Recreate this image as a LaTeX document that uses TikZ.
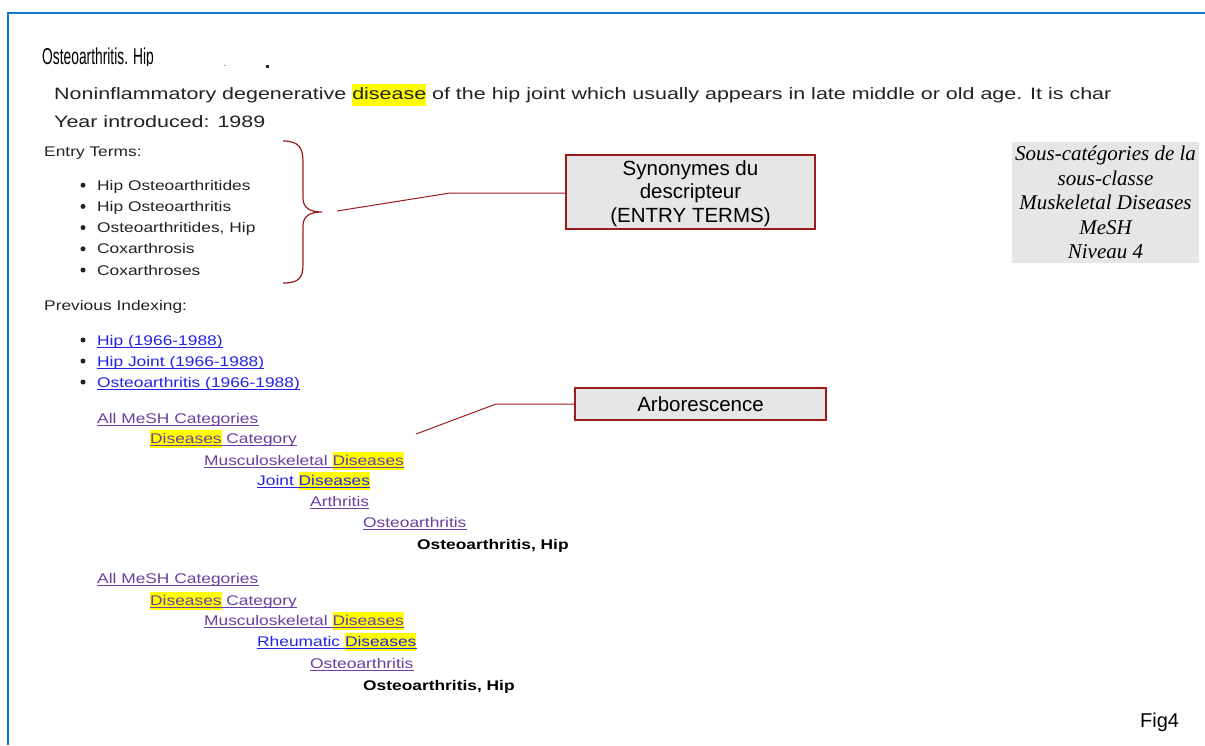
\documentclass[tikz,border=0pt]{standalone}
\usepackage{fontspec}
\setmainfont{Liberation Sans}
\newfontfamily\webfont[FakeStretch=1.24]{Liberation Sans}
\newfontfamily\bigwebfont[FakeStretch=1.3]{Liberation Sans}
\newfontfamily\headfont[FakeStretch=0.6]{Liberation Sans}
\newfontfamily\calloutfont{Liberation Sans}
\newfontfamily\notefont{Liberation Serif}

\definecolor{frameblue}{HTML}{1478C8}
\definecolor{bodytext}{HTML}{222222}
\definecolor{visited}{HTML}{6A3FA0}
\definecolor{linkblue}{HTML}{2424E8}
\definecolor{hlyellow}{HTML}{FFFF00}
\definecolor{calloutred}{HTML}{9B1C1C}
\definecolor{boxgray}{HTML}{E6E6E6}

% yellow search-term highlight spanning the full line height
\newcommand\hlword[1]{{\setlength{\fboxsep}{0pt}\colorbox{hlyellow}{\strut #1}}}

\tikzset{
  plain/.style={anchor=base west, inner sep=0pt, text=bodytext,
    font=\webfont\fontsize{14}{18}\selectfont},
  big/.style={plain, font=\bigwebfont\fontsize{16.5}{22}\selectfont},
  vlink/.style={plain, text=visited},
  nlink/.style={plain, text=linkblue},
  leaf/.style={plain, text=black, font=\webfont\bfseries\fontsize{14}{18}\selectfont},
  bullet/.style={circle, fill=bodytext, inner sep=0pt, minimum size=5pt},
  callout/.style={draw=calloutred, line width=1.2pt, fill=boxgray, align=center,
    inner sep=0pt, text=black, font=\calloutfont\fontsize{20.5}{23.5}\selectfont},
  leader/.style={draw=calloutred, line width=1pt},
}

\begin{document}
\begin{tikzpicture}[x=1pt,y=-1pt]
\useasboundingbox (0,0) rectangle (1205,745);
\fill[white] (0,0) rectangle (1205,745);

% page frame
\draw[frameblue, line width=2pt] (8,745) -- (8,13) -- (1205,13);

% heading, cut at its baseline
\begin{scope}
  \clip (0,30) rectangle (400,65.5);
  \node[plain, text=black, font=\headfont\fontsize{23}{27}\selectfont] (title) at (42,64) {Osteoarthritis. Hip};
\end{scope}
\fill[gray!70] (224,64.5) rectangle (226,66);
\fill[black!85] (266,64.5) rectangle (269,67.5);

% scope note
\node[big] (scopenote) at (54,99) {Noninflammatory degenerative {\setlength{\fboxsep}{0pt}\colorbox{hlyellow}{\strut disease}} of the hip joint which usually appears in late middle or old age. It is char};
\node[big] (year) at (54,127) {Year introduced: 1989};

% entry terms
\node[plain] (entry) at (44,156) {Entry Terms:};
\foreach \t [count=\i] in {Hip Osteoarthritides, Hip Osteoarthritis, {Osteoarthritides, Hip}, Coxarthrosis, Coxarthroses} {
  \node[bullet] (eb\i) at (83, 164+21.2*\i) {};
  \node[plain] (e\i) at (97, 169+21.2*\i) {\t};
}

% previous indexing
\node[plain] (prev) at (44,310) {Previous Indexing:};
\node[bullet] (pb1) at (83,340) {};
\node[bullet] (pb2) at (83,361) {};
\node[bullet] (pb3) at (83,382) {};
\node[nlink] (p1) at (97,345) {Hip (1966-1988)};
\node[nlink] (p2) at (97,366) {Hip Joint (1966-1988)};
\node[nlink] (p3) at (97,387) {Osteoarthritis (1966-1988)};

% first tree
\node[vlink] (a1) at (97,423) {All MeSH Categories};
\node[vlink] (a2) at (150,443) {\hlword{Diseases} Category};
\node[vlink] (a3) at (204,465) {Musculoskeletal \hlword{Diseases}};
\node[nlink] (a4) at (257,485) {Joint \hlword{Diseases}};
\node[vlink] (a5) at (310,506) {Arthritis};
\node[vlink] (a6) at (363,527) {Osteoarthritis};
\node[leaf]  (a7) at (417,549) {Osteoarthritis, Hip};

% second tree
\node[vlink] (b1) at (97,583) {All MeSH Categories};
\node[vlink] (b2) at (150,605) {\hlword{Diseases} Category};
\node[vlink] (b3) at (204,625) {Musculoskeletal \hlword{Diseases}};
\node[nlink] (b4) at (257,646) {Rheumatic \hlword{Diseases}};
\node[vlink] (b5) at (310,668) {Osteoarthritis};
\node[leaf]  (b6) at (363,690) {Osteoarthritis, Hip};

% link underlines
\foreach \n/\c in {p1/linkblue, p2/linkblue, p3/linkblue,
    a1/visited, a2/visited, a3/visited, a4/linkblue, a5/visited, a6/visited,
    b1/visited, b2/visited, b3/visited, b4/linkblue, b5/visited}
  \draw[\c, line width=1.2pt] ([yshift=-2.5pt]\n.base west) -- ([yshift=-2.5pt]\n.base east);

% brace grouping the entry terms
\draw[calloutred, line width=1.2pt]
  (283,141) .. controls (299,141) and (303,148) .. (303,162) -- (303,198)
  .. controls (303,208) and (310,212) .. (322,212)
  .. controls (310,212) and (303,216) .. (303,226) -- (303,264)
  .. controls (303,278) and (299,283) .. (283,283);

% callouts
\node[callout, minimum width=249pt, minimum height=74pt] (syn) at (690.5,192) {\rule{0pt}{18pt}Synonymes du\\descripteur\\(ENTRY TERMS)};
\node[callout, minimum width=251pt, minimum height=32pt] (arbo) at (700.5,404) {Arborescence};

\coordinate (synfoot) at (337,211);
\coordinate (synbend) at (450,193);
\draw[leader] (synfoot) -- (synbend) -- (synbend -| syn.west);

\coordinate (arbofoot) at (416,434);
\coordinate (arbobend) at (496,404);
\draw[leader] (arbofoot) -- (arbobend) -- (arbo.west);

% note on the right
\node[fill=boxgray, minimum width=187pt, minimum height=121pt, inner sep=0pt, align=center,
  font=\notefont\itshape\fontsize{21}{24.5}\selectfont] (note) at (1105.5,202.5)
  {Sous-catégories de la\\sous-classe\\Muskeletal Diseases\\MeSH\\Niveau 4};

% figure label
\node[anchor=base west, inner sep=0pt, font=\calloutfont\fontsize{20}{24}\selectfont] (fig) at (1140,727) {Fig4};
\end{tikzpicture}
\end{document}
